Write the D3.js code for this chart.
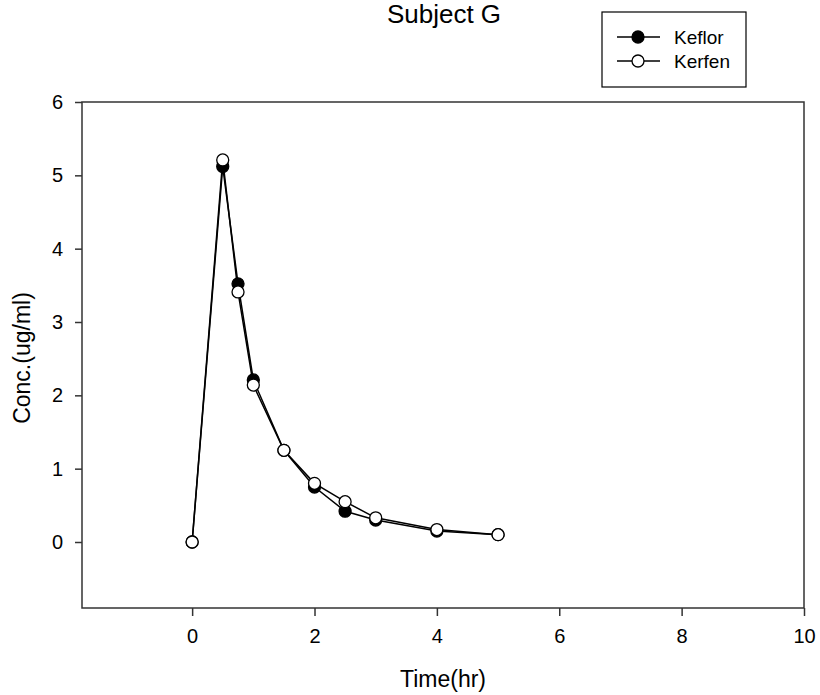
<!DOCTYPE html>
<html>
<head>
<meta charset="utf-8">
<script src="https://cdn.jsdelivr.net/npm/d3@7"></script>
<style>
  body { margin: 0; background: #fff; }
  svg text { font-family: "Liberation Sans", Arial, sans-serif; fill: #000; }
</style>
</head>
<body>
<svg id="chart" width="820" height="695"></svg>
<script>
const times = [0, 0.5, 0.75, 1, 1.5, 2, 2.5, 3, 4, 5];
const keflor = [0, 5.12, 3.52, 2.21, 1.25, 0.75, 0.42, 0.30, 0.15, 0.10];
const kerfen = [0, 5.21, 3.41, 2.14, 1.25, 0.80, 0.55, 0.33, 0.17, 0.10];
const xTicks = [0, 2, 4, 6, 8, 10];
const yTicks = [0, 1, 2, 3, 4, 5, 6];

const svg = d3.select("#chart");
const margin = { top: 102, left: 82, right: 16, bottom: 87 };
const width = 820, height = 695;

const x = d3.scaleLinear().domain([-1.8, 10]).range([margin.left, width - margin.right]);
const y = d3.scaleLinear().domain([-0.9, 6]).range([height - margin.bottom, margin.top]);

// frame
svg.append("rect")
  .attr("x", margin.left).attr("y", margin.top)
  .attr("width", width - margin.right - margin.left)
  .attr("height", height - margin.bottom - margin.top)
  .attr("fill", "none").attr("stroke", "#333").attr("stroke-width", 1.5);

const xAxis = svg.append("g")
  .attr("transform", `translate(0,${height - margin.bottom})`)
  .call(d3.axisBottom(x).tickValues(xTicks).tickFormat(d3.format("d")).tickSize(8).tickSizeOuter(0).tickPadding(13));
const yAxis = svg.append("g")
  .attr("transform", `translate(${margin.left},0)`)
  .call(d3.axisLeft(y).tickValues(yTicks).tickFormat(d3.format("d")).tickSize(7).tickSizeOuter(0).tickPadding(12));

[xAxis, yAxis].forEach((g) => {
  g.attr("font-size", 20).attr("font-family", null);
  g.select(".domain").remove();
  g.selectAll(".tick line").attr("stroke", "#333").attr("stroke-width", 1.5);
  g.selectAll(".tick text").attr("fill", "#000");
});

const series = [
  { name: "Keflor", values: keflor, fill: "#000" },
  { name: "Kerfen", values: kerfen, fill: "#fff" },
];

const line = d3.line().x((d) => x(d[0])).y((d) => y(d[1]));

series.forEach((s) => {
  const pts = times.map((t, i) => [t, s.values[i]]);
  svg.append("path")
    .attr("d", line(pts))
    .attr("fill", "none").attr("stroke", "#000").attr("stroke-width", 1.5);
  svg.append("g").selectAll("circle").data(pts).enter()
    .append("circle")
    .attr("cx", (d) => x(d[0])).attr("cy", (d) => y(d[1]))
    .attr("r", 6)
    .attr("fill", s.fill).attr("stroke", "#000").attr("stroke-width", 1.3);
});

// title and labels
svg.append("text").attr("x", 444).attr("y", 23).attr("text-anchor", "middle")
  .attr("font-size", 26).text("Subject G");
svg.append("text").attr("x", 443).attr("y", 687).attr("text-anchor", "middle")
  .attr("font-size", 23).text("Time(hr)");
svg.append("text").attr("transform", "translate(30,358) rotate(-90)").attr("text-anchor", "middle")
  .attr("font-size", 23).text("Conc.(ug/ml)");

// legend
const legend = svg.append("g");
legend.append("rect").attr("x", 602).attr("y", 12).attr("width", 144).attr("height", 75)
  .attr("fill", "#fff").attr("stroke", "#000").attr("stroke-width", 1.2);
const ly = d3.scalePoint().domain(series.map((s) => s.name)).range([37, 61]);
series.forEach((s) => {
  const g = legend.append("g").attr("transform", `translate(0,${ly(s.name)})`);
  g.append("line").attr("x1", 617).attr("x2", 660).attr("y1", 0).attr("y2", 0)
    .attr("stroke", "#000").attr("stroke-width", 1.5);
  g.append("circle").attr("cx", 638).attr("cy", 0).attr("r", 6)
    .attr("fill", s.fill).attr("stroke", "#000").attr("stroke-width", 1.3);
  g.append("text").attr("x", 674).attr("y", 6.5).attr("font-size", 19).text(s.name);
});
</script>
</body>
</html>
